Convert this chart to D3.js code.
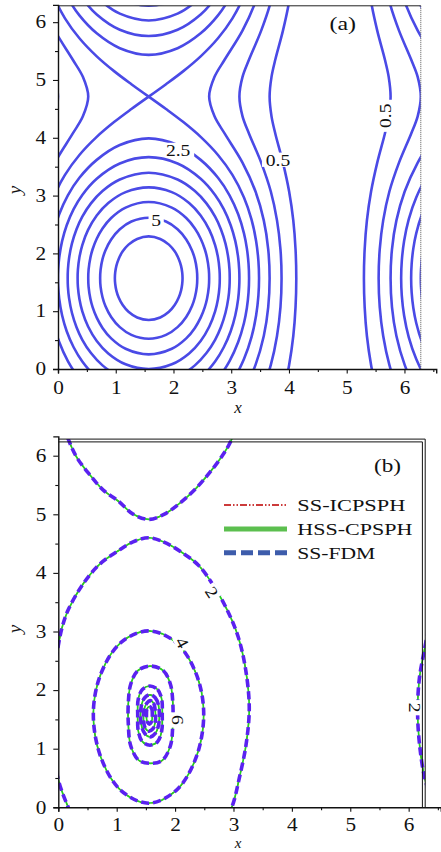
<!DOCTYPE html>
<html>
<head>
<meta charset="utf-8">
<script src="https://cdn.jsdelivr.net/npm/d3@7"></script>
<style>
  body { margin: 0; background: #fff; }
  svg { display: block; }
  text { font-family: "Liberation Serif", "DejaVu Serif", serif; fill: #111; }
</style>
</head>
<body>
<svg id="chart" width="441" height="852"></svg>
<script>
const TAU = 2 * Math.PI;
const HALF = Math.PI / 2;

// ---------------- panel (a): initial density ----------------
// Closed levels around the peak at (π/2, π/2). Each outline is given as one
// quarter, [dx, dy] offsets from the peak, from the top of the ring to its side.
const levelsA = [5.5, 5, 4.5, 4, 3.5, 3, 2.5, 2];
const ringA_5_5 = [[0,0.723],[0.2,0.679],[0.35,0.581],[0.45,0.465],[0.52,0.334],[0.56,0.214],[0.58,0.1],[0.586,0]];
const ringA_5_0 = [[0,1.047],[0.3,0.980],[0.5,0.846],[0.65,0.670],[0.75,0.480],[0.80,0.329],[0.833,0.15],[0.841,0]];
const ringA_4_5 = [[0,1.318],[0.4,1.221],[0.65,1.041],[0.8,0.860],[0.9,0.683],[0.97,0.505],[1.01,0.355],[1.041,0.15],[1.047,0]];
const ringA_4_0 = [[0,1.571],[0.4,1.489],[0.7,1.301],[0.9,1.085],[1.05,0.835],[1.15,0.574],[1.2,0.360],[1.226,0.15],[1.231,0]];
const ringA_3_5 = [[0,1.824],[0.5,1.707],[0.8,1.508],[1.0,1.295],[1.15,1.065],[1.25,0.848],[1.33,0.598],[1.38,0.341],[1.399,0.15],[1.403,0]];
const ringA_3_0 = [[0,2.094],[0.5,1.985],[0.9,1.721],[1.15,1.441],[1.3,1.195],[1.42,0.917],[1.5,0.641],[1.55,0.352],[1.567,0.15],[1.571,0]];
const ringA_2_5 = [[0,2.419],[0.5,2.304],[0.9,2.047],[1.2,1.737],[1.4,1.434],[1.55,1.105],[1.65,0.775],[1.70,0.516],[1.729,0.25],[1.738,0]];
// the 2.0 level runs through the saddles at (π/2, π/2 ± π)
const ringA_2_0 = [[0,3.1416],[0.3,2.927],[0.6,2.701],[0.9,2.445],[1.2,2.132],[1.45,1.788],[1.65,1.398],[1.78,1.019],[1.86,0.645],[1.900,0.3],[1.911,0]];
const ringsA = [ringA_5_5, ringA_5_0, ringA_4_5, ringA_4_0, ringA_3_5, ringA_3_0, ringA_2_5, ringA_2_0];

// Open levels below the saddle value: half-width dx of the band at height dy
// above the peak row, [dy, dx], for dy from 0 to π.
const openLevelsA = [1.5, 1, 0.5];
const stripA_1_5 = [[0,2.094],[0.5,2.070],[1.0,1.993],[1.5,1.850],[2.0,1.624],[2.5,1.317],[2.8,1.140],[Math.PI,1.047]];
const stripA_1_0 = [[0,2.301],[0.5,2.282],[1.0,2.222],[1.5,2.115],[2.0,1.948],[2.5,1.738],[2.8,1.625],[Math.PI,1.571]];
const stripA_0_5 = [[0,2.556],[0.5,2.543],[1.0,2.504],[1.5,2.432],[2.0,2.325],[2.5,2.193],[2.8,2.127],[Math.PI,2.094]];
const stripsA = [stripA_1_5, stripA_1_0, stripA_0_5];

const labelTextA = ["2.5", "5", "0.5", "0.5"];
const labelXA = [2.08, 1.70, 3.81, 5.67];
const labelYA = [3.79, 2.58, 3.62, 4.38];
const labelRotA = [0, 0, 0, -90];

// ---------------- panel (b): later state, three solvers ----------------
const seriesB = ["SS-ICPSPH", "HSS-CPSPH", "SS-FDM"];
const levelsB = [2, 4, 6, 8, 10, 12, 14];
const ringB_2 = [[1.55,4.60],[1.80,4.53],[2.10,4.36],[2.40,4.13],[2.66,3.78],[2.90,3.35],[3.08,2.91],[3.20,2.40],[3.27,1.72],[3.22,1.10],[3.10,0.50],[2.97,0.0],[2.79,-0.31],[2.56,-0.61],[2.33,-0.87],[2.06,-1.11],[1.80,-1.29],[1.55,-1.37],[1.28,-1.28],[1.03,-1.06],[0.77,-0.87],[0.54,-0.61],[0.315,-0.31],[0.17,0.0],[0.0,0.47],[-0.10,1.1],[-0.13,1.66],[-0.10,2.2],[-0.02,2.65],[0.06,3.05],[0.17,3.37],[0.43,3.82],[0.71,4.15],[1.00,4.36],[1.28,4.53]];
const ringB_4 = [[1.545,3.01],[2.02,2.81],[2.36,2.28],[2.49,1.60],[2.36,0.85],[2.02,0.29],[1.545,0.07],[1.07,0.29],[0.73,0.85],[0.60,1.60],[0.73,2.28],[1.07,2.81]];
const ringB_6 = [[1.58,2.41],[1.80,2.33],[1.92,2.10],[1.96,1.80],[1.96,1.40],[1.92,1.05],[1.78,0.80],[1.58,0.75],[1.38,0.80],[1.24,1.05],[1.20,1.40],[1.20,1.80],[1.24,2.10],[1.36,2.33]];
const ringB_8 = [[1.57,2.07],[1.70,2.01],[1.77,1.85],[1.78,1.57],[1.77,1.30],[1.70,1.12],[1.57,1.06],[1.44,1.12],[1.37,1.30],[1.36,1.57],[1.37,1.85],[1.44,2.01]];
const ringB_10 = [[1.57,1.92],[1.66,1.87],[1.72,1.72],[1.72,1.42],[1.66,1.26],[1.57,1.20],[1.48,1.26],[1.42,1.42],[1.42,1.72],[1.48,1.87]];
const ringB_12 = [[1.57,1.82],[1.63,1.78],[1.66,1.65],[1.66,1.45],[1.62,1.34],[1.55,1.30],[1.49,1.35],[1.46,1.48],[1.47,1.68],[1.52,1.78]];
const ringB_14 = [[1.56,1.72],[1.60,1.68],[1.61,1.58],[1.60,1.47],[1.56,1.42],[1.52,1.47],[1.51,1.58],[1.52,1.68]];
const ringsB = [ringB_2, ringB_4, ringB_6, ringB_8, ringB_10, ringB_12, ringB_14];

const labelTextB = ["2", "4", "6", "2"];
const labelXB = [2.63, 2.12, 2.04, 6.11];
const labelYB = [3.67, 2.81, 1.49, 1.70];
const labelRotB = [57, 62, 90, 90];

const tickMajor = [0, 1, 2, 3, 4, 5, 6];
const tickMinorX = [0.5, 1.5, 2.5, 3.5, 4.5, 5.5, 6.5];
const tickMinorY = [0.5, 1.5, 2.5, 3.5, 4.5, 5.5];

// ---------------- drawing ----------------
const svg = d3.select("#chart");
svg.append("rect").attr("width", 441).attr("height", 852).attr("fill", "#fff");

const xA = d3.scaleLinear().domain([0, TAU]).range([58, 420.8]);
const yA = d3.scaleLinear().domain([0, TAU]).range([369, 5.8]);
const xB = d3.scaleLinear().domain([0, TAU]).range([58.3, 425.2]);
const yB = d3.scaleLinear().domain([0, TAU]).range([807.3, 439.1]);

const shifts = [-1, 0, 1];

// the type face is drawn a little wider than its natural advance
function widen(sel, k) {
  sel.each(function () {
    const w = this.getComputedTextLength();
    d3.select(this).attr("textLength", w * k).attr("lengthAdjust", "spacingAndGlyphs");
  });
}

function clipFor(id, x, y) {
  svg.append("clipPath").attr("id", id).append("rect")
    .attr("x", x(0)).attr("y", y(TAU))
    .attr("width", x(TAU) - x(0)).attr("height", y(0) - y(TAU));
}
clipFor("clipA", xA, yA);
clipFor("clipB", xB, yB);

// full outline from one quarter (mirror symmetry about the peak row and column)
function ringFromQuarter(q) {
  const p = [];
  q.forEach(([dx, dy]) => p.push([HALF + dx, HALF + dy]));
  q.slice(0, -1).reverse().forEach(([dx, dy]) => p.push([HALF + dx, HALF - dy]));
  q.slice(1).forEach(([dx, dy]) => p.push([HALF - dx, HALF - dy]));
  q.slice(1, -1).reverse().forEach(([dx, dy]) => p.push([HALF - dx, HALF + dy]));
  return p;
}
// the saddle level: two halves that meet at a corner in each saddle
function saddleHalves(q) {
  const halves = [];
  [1, -1].forEach(s => {
    const p = [];
    q.forEach(([dx, dy]) => p.push([HALF + s * dx, HALF - dy]));
    q.slice(0, -1).reverse().forEach(([dx, dy]) => p.push([HALF + s * dx, HALF + dy]));
    halves.push(p);
  });
  return halves;
}
// open band edge, continued over the periodic direction
function stripLine(half, side) {
  const period = half.slice(1).reverse().map(([dy, dx]) => [-dy, dx]).concat(half);
  const p = [];
  for (let k = -1; k <= 1; k++) {
    period.forEach(([dy, dx], i) => {
      if (k > -1 && i === 0) return;
      p.push([HALF + side * dx, HALF + dy + k * TAU]);
    });
  }
  return p;
}

// the domain is 2π-periodic: every outline is repeated one period around
function drawPeriodic(g, pts, x, y, curve, style) {
  const line = d3.line().x(d => x(d[0])).y(d => y(d[1])).curve(curve);
  shifts.forEach(i => shifts.forEach(j => {
    const moved = pts.map(([px, py]) => [px + i * TAU, py + j * TAU]);
    const path = g.append("path").attr("d", line(moved)).attr("fill", "none");
    style(path);
  }));
}

// ----- panel (a) -----
const gA = svg.append("g").attr("clip-path", "url(#clipA)");
const blue = "#4a4ae6";
const styleA = p => p.attr("stroke", blue).attr("stroke-width", 2.6).attr("stroke-linejoin", "round");
ringsA.forEach((q, k) => {
  if (levelsA[k] === 2) {
    saddleHalves(q).forEach(h => drawPeriodic(gA, h, xA, yA, d3.curveCatmullRom.alpha(0.5), styleA));
  } else {
    drawPeriodic(gA, ringFromQuarter(q), xA, yA, d3.curveCatmullRomClosed.alpha(0.5), styleA);
  }
});
stripsA.forEach(s => {
  [1, -1].forEach(side => {
    const pts = stripLine(s, side);
    shifts.forEach(i => {
      const line = d3.line().x(d => xA(d[0] + i * TAU)).y(d => yA(d[1])).curve(d3.curveCatmullRom.alpha(0.5));
      styleA(gA.append("path").attr("d", line(pts)).attr("fill", "none"));
    });
  });
});

function contourLabel(g, cx, cy, text, rot, size) {
  const t = g.append("g").attr("transform", `translate(${cx},${cy}) rotate(${rot})`);
  const txt = t.append("text").attr("text-anchor", "middle").attr("dy", "0.34em")
    .attr("font-size", size).text(text);
  widen(txt, 1.15);
  const w = txt.node().getComputedTextLength() * 1.15;
  t.insert("rect", "text").attr("x", -w / 2 - 2).attr("y", -size * 0.42)
    .attr("width", w + 4).attr("height", size * 0.84).attr("fill", "#fff");
}
const gAL = svg.append("g");
labelTextA.forEach((t, i) => contourLabel(gAL, xA(labelXA[i]), yA(labelYA[i]), t, labelRotA[i], 17));

// frame of (a)
svg.append("line").attr("x1", xA(0)).attr("x2", xA(TAU)).attr("y1", yA(TAU)).attr("y2", yA(TAU))
  .attr("stroke", "#222").attr("stroke-width", 1);
svg.append("line").attr("x1", xA(TAU)).attr("x2", xA(TAU)).attr("y1", yA(TAU)).attr("y2", yA(0))
  .attr("stroke", "#555").attr("stroke-width", 1).attr("stroke-dasharray", "1,1");

// ----- panel (b) -----
const gB = svg.append("g").attr("clip-path", "url(#clipB)");
const styleB = [
  p => p.attr("stroke", "#d42020").attr("stroke-width", 1.2).attr("stroke-dasharray", "6,2,1.5,2,1.5,2"),
  p => p.attr("stroke", "#22d022").attr("stroke-width", 1.7),
  p => p.attr("stroke", "#5a22f0").attr("stroke-width", 3.6).attr("stroke-dasharray", "8,4")
];
seriesB.forEach((s, si) => {
  ringsB.forEach(r => drawPeriodic(gB, r, xB, yB, d3.curveCatmullRomClosed.alpha(0.5), styleB[si]));
});
const gBL = svg.append("g");
labelTextB.forEach((t, i) => contourLabel(gBL, xB(labelXB[i]), yB(labelYB[i]), t, labelRotB[i], 17));

// double frame of (b)
[0, 2.8].forEach(o => {
  svg.append("line").attr("x1", xB(0)).attr("x2", xB(TAU) - o).attr("y1", yB(TAU) + o).attr("y2", yB(TAU) + o)
    .attr("stroke", "#111").attr("stroke-width", 1);
  svg.append("line").attr("x1", xB(TAU) - o).attr("x2", xB(TAU) - o).attr("y1", yB(TAU) + o).attr("y2", yB(0))
    .attr("stroke", "#111").attr("stroke-width", 1);
});

// legend of (b)
const legendColor = ["#cc3b3b", "#5cbf4f", "#3d5cab"];
const legendDash = ["7,2,1.5,2,1.5,2", null, "12,5"];
const legendWidth = [2, 5, 5];
const legendTextLen = [108, 115, 78];
seriesB.forEach((s, i) => {
  const ly = 505 + i * 23.9;
  const l = svg.append("line").attr("x1", 224).attr("x2", 287).attr("y1", ly).attr("y2", ly)
    .attr("stroke", legendColor[i]).attr("stroke-width", legendWidth[i]);
  if (legendDash[i]) l.attr("stroke-dasharray", legendDash[i]);
  svg.append("text").attr("x", 297.3).attr("y", ly + 6).attr("font-size", 17.5)
    .attr("textLength", legendTextLen[i]).attr("lengthAdjust", "spacingAndGlyphs").text(s);
});

// ----- axes -----
function axes(x, y, xEnd, yEnd, pad) {
  const xs = x.copy().domain([0, xEnd]).range([x(0), x(xEnd)]);
  const ys = y.copy().domain([0, yEnd]).range([y(0), y(yEnd)]);
  const gx = svg.append("g").attr("transform", `translate(0,${y(0)})`);
  gx.call(d3.axisBottom(xs).tickValues(tickMajor).tickSize(4.5).tickPadding(pad).tickFormat(d3.format("d")));
  gx.append("g").call(d3.axisBottom(xs).tickValues(tickMinorX).tickSize(3).tickFormat(""))
    .select(".domain").remove();
  const gy = svg.append("g").attr("transform", `translate(${x(0)},0)`);
  gy.call(d3.axisLeft(ys).tickValues(tickMajor).tickSize(5).tickPadding(7).tickFormat(d3.format("d")));
  gy.append("g").call(d3.axisLeft(ys).tickValues(tickMinorY).tickSize(3).tickFormat(""))
    .select(".domain").remove();
  [gx, gy].forEach(g => {
    g.selectAll(".domain").attr("stroke", "#111").attr("stroke-width", 1.4);
    g.selectAll(".tick line").attr("stroke", "#111").attr("stroke-width", 1.1);
    const t = g.selectAll("text").attr("font-family", "Liberation Serif").attr("font-size", 18).attr("fill", "#111");
    widen(t, 1.18);
  });
}
axes(xA, yA, 6.55, 6.30, 7.5);
axes(xB, yB, 6.55, 6.33, 6.5);

// axis titles
function axisTitles(yMid, xTitleY, size) {
  svg.append("text").attr("x", 238).attr("y", xTitleY).attr("text-anchor", "middle")
    .attr("font-size", size).attr("font-style", "italic").text("x");
  svg.append("text").attr("transform", `translate(21,${yMid}) rotate(-90)`).attr("text-anchor", "middle")
    .attr("font-size", 19).attr("font-style", "italic").text("y");
}
axisTitles(190, 413, 17);
axisTitles(629, 848.4, 15);

// panel tags
svg.append("text").attr("x", 329.5).attr("y", 30).attr("font-size", 18)
  .attr("textLength", 26.5).attr("lengthAdjust", "spacingAndGlyphs").text("(a)");
svg.append("text").attr("x", 374).attr("y", 472).attr("font-size", 18)
  .attr("textLength", 27).attr("lengthAdjust", "spacingAndGlyphs").text("(b)");
</script>
</body>
</html>
